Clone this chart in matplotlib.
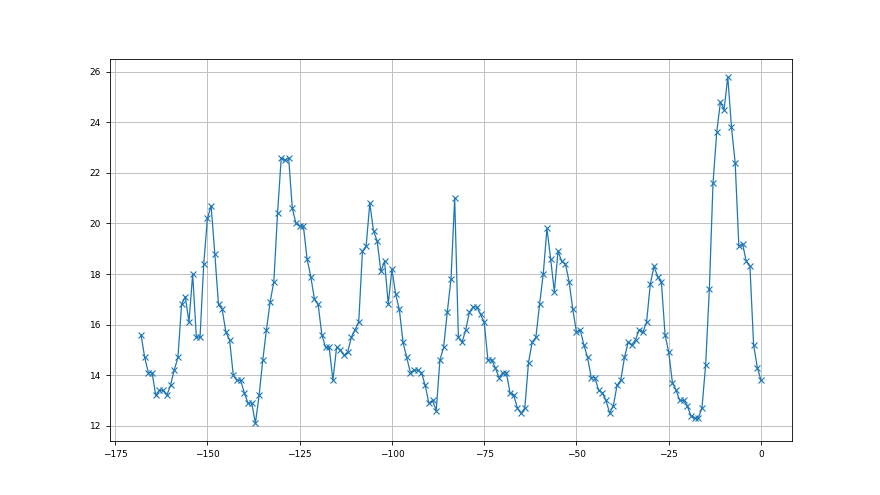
import matplotlib
matplotlib.use('Agg')
import matplotlib.pyplot as plt

# hourly values, last 169 hours (hour offset -168 .. 0)
hours = list(range(-168, 1))
values = [
    15.6, 14.7, 14.1, 14.1, 13.2, 13.4, 13.4, 13.2, 13.6, 14.2,
    14.7, 16.8, 17.1, 16.1, 18.0, 15.5, 15.5, 18.4, 20.2, 20.7,
    18.8, 16.8, 16.6, 15.7, 15.4, 14.0, 13.8, 13.8, 13.3, 12.9,
    12.9, 12.1, 13.2, 14.6, 15.8, 16.9, 17.7, 20.4, 22.6, 22.5,
    22.6, 20.6, 20.0, 19.9, 19.9, 18.6, 17.9, 17.0, 16.8, 15.6,
    15.1, 15.1, 13.8, 15.1, 15.0, 14.8, 14.9, 15.5, 15.8, 16.1,
    18.9, 19.1, 20.8, 19.7, 19.3, 18.1, 18.5, 16.8, 18.2, 17.2,
    16.6, 15.3, 14.7, 14.1, 14.2, 14.2, 14.1, 13.6, 12.9, 13.0,
    12.6, 14.6, 15.1, 16.5, 17.8, 21.0, 15.5, 15.3, 15.8, 16.5,
    16.7, 16.7, 16.4, 16.1, 14.6, 14.6, 14.3, 13.9, 14.1, 14.1,
    13.3, 13.2, 12.7, 12.5, 12.7, 14.5, 15.3, 15.5, 16.8, 18.0,
    19.8, 18.6, 17.3, 18.9, 18.5, 18.4, 17.7, 16.6, 15.7, 15.8,
    15.2, 14.7, 13.9, 13.9, 13.4, 13.3, 13.0, 12.5, 12.8, 13.6,
    13.8, 14.7, 15.3, 15.2, 15.4, 15.8, 15.7, 16.1, 17.6, 18.3,
    17.9, 17.7, 15.6, 14.9, 13.7, 13.4, 13.0, 13.0, 12.8, 12.4,
    12.3, 12.3, 12.7, 14.4, 17.4, 21.6, 23.6, 24.8, 24.5, 25.8,
    23.8, 22.4, 19.1, 19.2, 18.5, 18.3, 15.2, 14.3, 13.8,
]

fig, ax = plt.subplots(figsize=(8.8, 4.95), dpi=100)
ax.plot(hours, values, marker='x', markersize=4, markeredgewidth=0.8, linewidth=0.9)
ax.grid(True, color='#c0c0c0', linewidth=0.7)
ax.tick_params(labelsize=6.5, width=0.6, length=3)
for s in ax.spines.values():
    s.set_linewidth(0.6)

fig.savefig('out.png', dpi=100)
